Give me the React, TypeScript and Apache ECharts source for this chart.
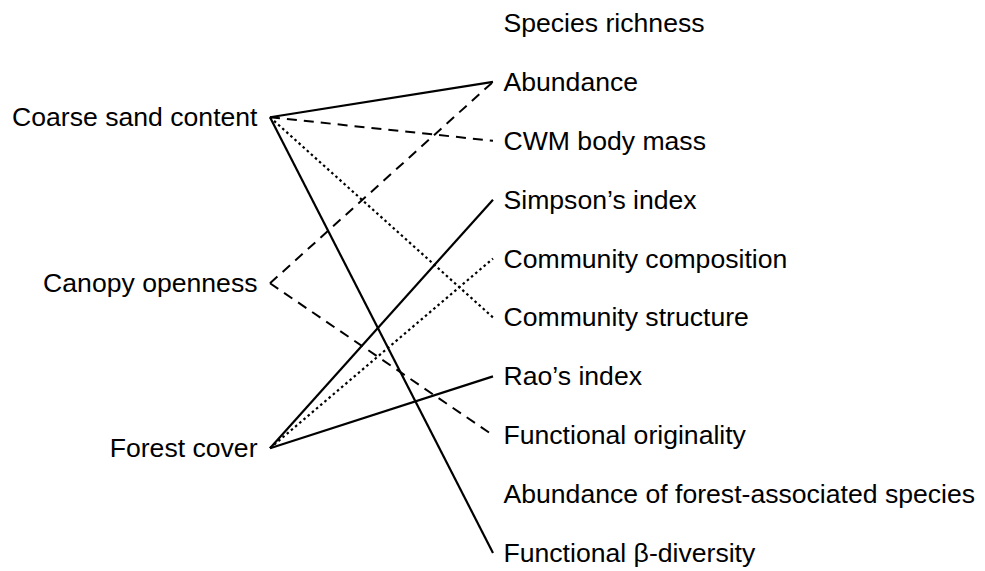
import React, { useEffect, useRef } from "react";
import * as echarts from "echarts";

const leftNodes = ["Coarse sand content", "Canopy openness", "Forest cover"];
const leftRows = [1.6, 4.42, 7.22];
const rightNodes = [
  "Species richness",
  "Abundance",
  "CWM body mass",
  "Simpson’s index",
  "Community composition",
  "Community structure",
  "Rao’s index",
  "Functional originality",
  "Abundance of forest-associated species",
  "Functional β-diversity",
];
const rightRows = [0, 1, 2, 3, 4, 5, 6, 7, 8, 9];
const linkSources = [0, 0, 0, 0, 1, 1, 2, 2, 2];
const linkTargets = [1, 2, 5, 9, 1, 7, 3, 4, 6];
const linkKinds = ["solid", "dashed", "dotted", "solid", "dashed", "dashed", "solid", "dotted", "solid"];

const FONT = "'Liberation Sans', Arial, sans-serif";

export default function App() {
  const ref = useRef<HTMLDivElement>(null);
  useEffect(() => {
    if (!ref.current) return;
    const chart = echarts.init(ref.current, null, { renderer: "svg" });
    const nodes: any[] = [];
    leftNodes.forEach((n, i) =>
      nodes.push({
        name: n,
        value: [0, leftRows[i]],
        label: { show: true, position: "left", distance: 12 },
      })
    );
    rightNodes.forEach((n, i) =>
      nodes.push({
        name: n,
        value: [1, rightRows[i]],
        label: { show: true, position: "right", distance: 10 },
      })
    );
    const styleFor = (k: string) => {
      if (k === "dashed") return { type: [10, 7], width: 2 };
      if (k === "dotted") return { type: [2.5, 3], width: 2.2 };
      return { type: "solid", width: 2.2 };
    };
    const links = linkSources.map((s, i) => ({
      source: leftNodes[s],
      target: rightNodes[linkTargets[i]],
      lineStyle: { color: "#000", opacity: 1, curveness: 0, ...styleFor(linkKinds[i]) },
    }));
    chart.setOption({
      animation: false,
      backgroundColor: "#fff",
      grid: { left: 270, right: 492, top: 23, bottom: 18 },
      xAxis: { type: "value", min: 0, max: 1, show: false },
      yAxis: { type: "value", min: 0, max: 9, inverse: true, show: false },
      series: [
        {
          type: "graph",
          coordinateSystem: "cartesian2d",
          layout: "none",
          symbol: "circle",
          symbolSize: 1,
          itemStyle: { color: "rgba(0,0,0,0)" },
          label: {
            show: true,
            color: "#000",
            fontFamily: FONT,
            fontSize: 26.6,
          },
          labelLayout: { hideOverlap: false },
          emphasis: { disabled: true },
          data: nodes,
          links,
        },
      ],
    });
    return () => chart.dispose();
  }, []);
  return (
    <div
      ref={ref}
      style={{ width: 985, height: 571, position: "absolute", left: 0, top: 0 }}
    />
  );
}
